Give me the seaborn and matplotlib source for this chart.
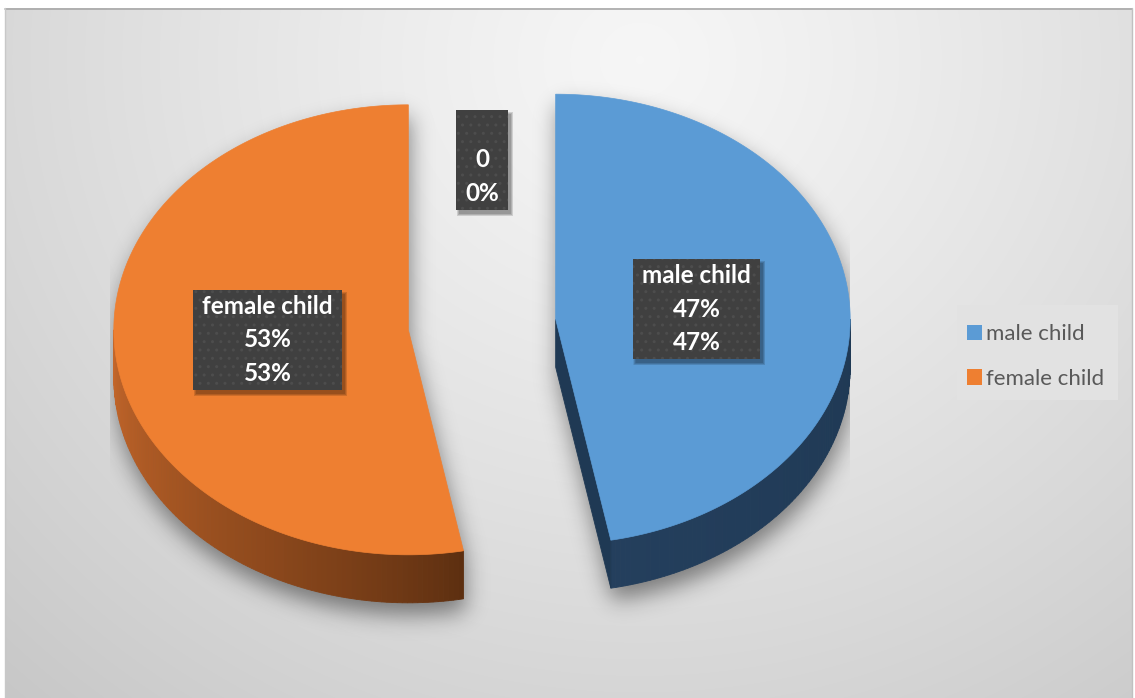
import numpy as np
import matplotlib
matplotlib.use("Agg")
import matplotlib.pyplot as plt
import seaborn as sns
from matplotlib.patches import Polygon, Rectangle, Patch
from matplotlib.path import Path
from matplotlib.colors import to_rgb

# ---- data -------------------------------------------------------------
categories = ["male child", "female child", ""]
values = [0.47, 0.53, 0.0]
legend_labels = ["male child", "female child"]

top_colors = ["#5B9BD5", "#EE7F31", "#A5A5A5"]
side_dark = ["#1F3954", "#5B2E10", "#555555"]
side_light = ["#243F5D", "#C4662A", "#777777"]

# ---- layout -------------------------------------------------------------
W, H = 1135, 698
CX, CY = 482.0, 324.5        # pie centre (pixels)
RX, RY = 294.5, 225.0        # ellipse radii of the tilted top face
DEPTH = 48.0                 # thickness of the pie
EXPLODE = 74.0               # explosion distance along each bisector
LABEL_R = 0.48               # label position as fraction of radius
LEGEND_BOX = (957, 305, 161, 95)   # x, y, width, height in pixels

sns.set_theme(style="white")
plt.rcParams["font.family"] = ["Lato", "DejaVu Sans"]

fig = plt.figure(figsize=(W / 100, H / 100), dpi=100)
ax = fig.add_axes([0, 0, 1, 1])
ax.set_xlim(0, W)
ax.set_ylim(H, 0)
ax.axis("off")

# ---- chart area background (radial grey gradient) -----------------------
yy, xx = np.mgrid[0:H, 0:W] + 0.5
d = np.sqrt(((xx - 640) / 700) ** 2 + ((yy - 60) / 650) ** 2)
g = 0.965 - 0.13 * np.clip(d, 0, 1.5) ** 1.2
bg = np.dstack([g, g, g])
outside = (xx < 5) | (yy < 8) | (xx > 1132)
bg[outside] = 1.0
ax.imshow(bg, extent=(0, W, H, 0), origin="upper", zorder=0, interpolation="bilinear")
ax.plot([5, 1132], [8.5, 8.5], color="#A8A8A8", lw=1.2, zorder=1)
ax.plot([1132, 1132], [8, H], color="#C0C0C0", lw=1.0, zorder=1)
ax.plot([5, 5], [8, H], color="#C8C8C8", lw=1.0, zorder=1)

# ---- geometry helpers -----------------------------------------------------
total = float(sum(values))
fracs = [v / total for v in values]
ends = np.cumsum(fracs) * 360.0
starts = np.concatenate([[0.0], ends[:-1]])


def offset(mid):
    r = np.radians(mid)
    return EXPLODE * np.sin(r), -EXPLODE * (RY / RX) * np.cos(r)


def rim(theta, ox, oy, z=0.0, r=1.0):
    t = np.radians(theta)
    return CX + ox + r * RX * np.sin(t), CY + oy - r * RY * np.cos(t) + z


def top_face(t0, t1, ox, oy):
    ts = np.linspace(t0, t1, max(int(abs(t1 - t0)) * 2 + 2, 2))
    pts = [(CX + ox, CY + oy)] + [rim(t, ox, oy) for t in ts]
    return np.array(pts)


# ---- soft shadow under the slices -----------------------------------------
mask = np.zeros((H, W))
grid = np.column_stack([xx.ravel(), yy.ravel()])
for t0, t1 in zip(starts, ends):
    if t1 - t0 <= 0:
        continue
    ox, oy = offset((t0 + t1) / 2)
    poly = top_face(t0, t1, ox, oy)
    for z in np.arange(0, DEPTH + 1, 4):
        p = Path(poly + np.array([2.0, z + 12.0]))
        mask = np.maximum(mask, p.contains_points(grid).reshape(H, W))


def blur(a, s):
    ky = np.fft.fftfreq(a.shape[0])
    kx = np.fft.rfftfreq(a.shape[1])
    k = np.exp(-2 * (np.pi * s) ** 2 * (ky[:, None] ** 2 + kx[None, :] ** 2))
    return np.fft.irfft2(np.fft.rfft2(a) * k, s=a.shape)


sh = np.clip(blur(mask, 11.0), 0, 1) * 0.45
sh[(xx < 110) | (xx > 850)] = 0
shadow = np.zeros((H, W, 4))
shadow[..., 3] = sh
ax.imshow(shadow, extent=(0, W, H, 0), origin="upper", zorder=2, interpolation="bilinear")

# ---- 3-D exploded pie -------------------------------------------------------
for i, (t0, t1) in enumerate(zip(starts, ends)):
    if t1 - t0 <= 0:
        continue
    ox, oy = offset((t0 + t1) / 2)
    dark = np.array(to_rgb(side_dark[i]))
    light = np.array(to_rgb(side_light[i]))

    # outer curved wall, visible on the front half (90..270 degrees)
    a, b = max(t0, 90.0), min(t1, 270.0)
    if b > a:
        steps = np.linspace(a, b, int(b - a) + 2)
        for s0, s1 in zip(steps[:-1], steps[1:]):
            f = ((s0 + s1) / 2 - a) / max(b - a, 1e-6)
            if i == 1:
                col = dark + (light - dark) * f ** 0.8
            else:
                col = dark + (light - dark) * f
            quad = [rim(s0, ox, oy), rim(s1, ox, oy),
                    rim(s1, ox, oy, DEPTH), rim(s0, ox, oy, DEPTH)]
            ax.add_patch(Polygon(quad, closed=True, fc=col, ec=col, lw=0.6, zorder=3))

    # radial walls facing the viewer
    apex_t = (CX + ox, CY + oy)
    apex_b = (CX + ox, CY + oy + DEPTH)
    if np.sin(np.radians(t1)) > 0:
        quad = [apex_t, rim(t1, ox, oy), rim(t1, ox, oy, DEPTH), apex_b]
        ax.add_patch(Polygon(quad, closed=True, fc=side_dark[i], ec=side_dark[i], lw=0.6, zorder=3))
    if -np.sin(np.radians(t0)) > 0:
        quad = [apex_t, rim(t0, ox, oy), rim(t0, ox, oy, DEPTH), apex_b]
        ax.add_patch(Polygon(quad, closed=True, fc=side_dark[i], ec=side_dark[i], lw=0.6, zorder=3))

    # top face
    ax.add_patch(Polygon(top_face(t0, t1, ox, oy), closed=True,
                         fc=top_colors[i], ec=top_colors[i], lw=0.5, zorder=4))

# ---- data labels --------------------------------------------------------------
fig.canvas.draw()
renderer = fig.canvas.get_renderer()
inv = ax.transData.inverted()
for i, (t0, t1) in enumerate(zip(starts, ends)):
    mid = (t0 + t1) / 2
    ox, oy = offset(mid)
    lx, ly = rim(mid, ox, oy, r=LABEL_R)
    val = f"{values[i]:.0%}" if values[i] else "0"
    pct = f"{fracs[i]:.0%}"
    txt = ax.text(lx, ly, f"{categories[i] or ' '}\n{val}\n{pct}", ha="center", va="center",
                  ma="center", color="white", fontsize=17.5, fontweight="bold",
                  linespacing=1.55, zorder=8)
    bb = txt.get_window_extent(renderer)
    (x0, y1), (x1, y0) = inv.transform([[bb.x0, bb.y0], [bb.x1, bb.y1]])
    px, py = 9.0, 5.0
    bx, by = x0 - px, y0 - py
    bw, bh = (x1 - x0) + 2 * px, (y1 - y0) + 2 * py
    for k in range(6):
        ax.add_patch(Rectangle((bx + 3 - k / 2, by + 4 - k / 2), bw + k, bh + k,
                               fc="black", ec="none", alpha=0.07, zorder=5))
    ax.add_patch(Rectangle((bx, by), bw, bh, fc="#404040", ec="none", zorder=6))
    ax.add_patch(Rectangle((bx, by), bw, bh, fill=False, ec="#4D4D4D", lw=0,
                           hatch="..", zorder=7))

# ---- legend --------------------------------------------------------------------
lx0, ly0, lw_, lh_ = LEGEND_BOX
ax.add_patch(Rectangle((lx0, ly0), lw_, lh_, fc="#E2E2E2", ec="none", zorder=5))
handles = [Patch(fc=top_colors[i], ec="none") for i in range(len(legend_labels))]
leg = ax.legend(handles, legend_labels, loc="center left",
                bbox_to_anchor=((lx0 + 1) / W, 1 - (ly0 + lh_ / 2 + 4) / H), frameon=False,
                handlelength=0.7, handleheight=0.7, handletextpad=0.15,
                labelspacing=1.1, borderpad=0.4, borderaxespad=0,
                fontsize=16, labelcolor="#595959")
leg.set_zorder(6)

fig.savefig("out.png", dpi=100)
